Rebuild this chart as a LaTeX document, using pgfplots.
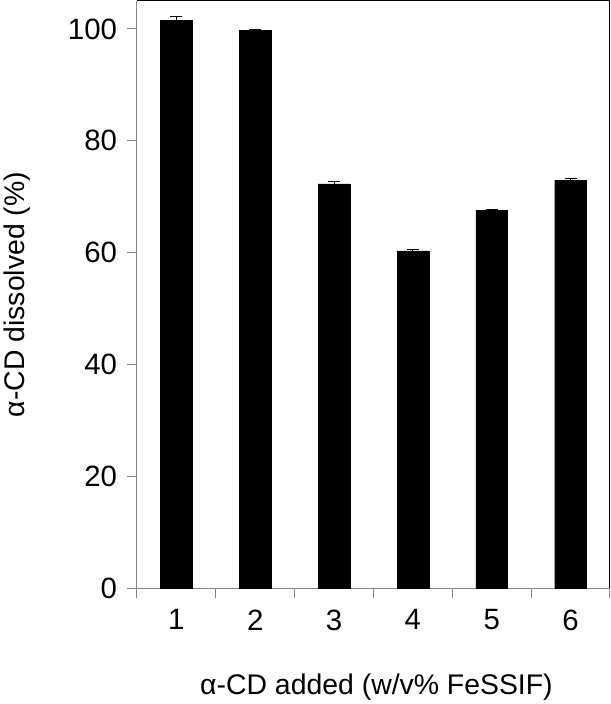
\documentclass[border=0pt]{standalone}
\usepackage{fontspec}
\setmainfont{Liberation Sans}
\usepackage{pgfplots}
\pgfplotsset{compat=1.18}
\definecolor{axgray}{RGB}{134,134,134}
\begin{document}
\begin{tikzpicture}
\useasboundingbox (-137bp,-116bp) rectangle (474bp,588bp);
\begin{axis}[
  scale only axis,
  width=473bp, height=587bp,
  xmin=0.5, xmax=6.5,
  ymin=0, ymax=105,
  ytick={0,20,...,100},
  yticklabel={\pgfmathprintnumber{\tick}},
  xtick={0.5,1.5,...,6.5},
  xticklabels={},
  extra x ticks={1,2,3,4,5,6},
  extra x tick labels={1,2,3,4,5,6},
  extra x tick style={major tick length=0pt, xticklabel style={yshift=-18bp}},
  tick align=outside,
  major tick length=9.5bp,
  tick style={axgray, line width=1pt},
  axis line style={axgray, line width=1pt},
  separate axis lines,
  axis x line*=bottom,
  axis y line*=left,
  /pgf/number format/assume math mode=true,
  tick label style={font=\fontsize{29.5}{35}\selectfont},
  label style={font=\fontsize{28.5}{34}\selectfont},
  xlabel={α-CD added (w/v\% FeSSIF)},
  ylabel={α-CD dissolved (\%)},
  xlabel style={at={(axis description cs:0.5,0)}, anchor=center, yshift=-99bp, xshift=3bp},
  ylabel style={at={(axis description cs:0,0.5)}, anchor=center, yshift=120bp},
  yticklabel style={xshift=-7bp},
  clip=false,
]
\addplot[ybar, bar width=31.7bp, fill=black, draw=black,
  error bars/.cd, y dir=plus, y explicit,
  error bar style={black, line width=1pt},
  error mark options={black, line width=1pt, mark size=6bp, rotate=90}]
  coordinates {
  (1,101.5) +- (0,0.7)
  (2,99.8) +- (0,0.15)
  (3,72.3) +- (0,0.35)
  (4,60.3) +- (0,0.25)
  (5,67.5) +- (0,0.25)
  (6,72.9) +- (0,0.35)
  };
\draw[black, line width=1pt] (rel axis cs:0,1) -- (rel axis cs:1,1) -- (rel axis cs:1,0);
\end{axis}
\end{tikzpicture}
\end{document}
